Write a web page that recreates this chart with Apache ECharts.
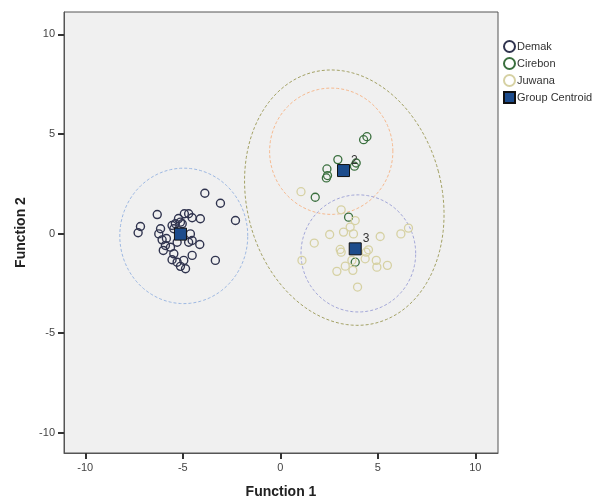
<!DOCTYPE html>
<html>
<head>
<meta charset="utf-8">
<script src="https://cdn.jsdelivr.net/npm/echarts@6/dist/echarts.min.js"></script>
<style>
  html, body { margin: 0; padding: 0; background: #fff; }
  #chart-container { width: 604px; height: 502px; }
</style>
</head>
<body>
<div id="chart-container"></div>
<script>
// discriminant scores, Function 1 / Function 2
const demak = [
  [-3.87, 2.02], [-3.07, 1.52], [-2.30, 0.65], [-6.31, 0.95], [-7.17, 0.35],
  [-7.29, 0.04], [-4.10, 0.74], [-6.14, 0.24], [-6.23, -0.02], [-6.06, -0.32],
  [-5.89, -0.60], [-6.00, -0.85], [-5.63, -0.69], [-5.46, -1.02], [-5.55, -1.32],
  [-5.29, -1.44], [-4.95, -1.35], [-5.12, -1.65], [-4.86, -1.77], [-4.52, -1.10],
  [-4.13, -0.55], [-3.33, -1.35], [-5.38, 0.49], [-5.12, 0.57], [-4.92, 0.99],
  [-4.70, 0.99], [-4.52, 0.79], [-5.55, 0.40], [-4.61, -0.02], [-4.52, -0.35],
  [-4.70, -0.44], [-5.03, 0.49], [-5.46, 0.24], [-5.29, -0.44], [-5.84, -0.25],
  [-5.22, 0.75]
];
const cirebon = [
  [4.27, 4.71], [4.44, 4.86], [2.95, 3.71], [3.89, 3.54], [3.80, 3.38],
  [2.39, 3.24], [2.36, 2.79], [2.42, 2.91], [1.79, 1.82], [3.50, 0.82],
  [3.84, -1.44]
];
const juwana = [
  [1.06, 2.10], [3.12, 1.19], [3.84, 0.65], [3.58, 0.32], [2.53, -0.05],
  [3.24, 0.07], [3.75, -0.02], [1.74, -0.48], [5.12, -0.15], [6.18, -0.02],
  [6.57, 0.27], [1.11, -1.35], [3.07, -0.80], [3.12, -0.94], [4.52, -0.82],
  [4.40, -0.94], [4.35, -1.27], [4.92, -1.35], [4.95, -1.69], [5.49, -1.60],
  [2.90, -1.90], [3.33, -1.64], [3.72, -1.85], [3.96, -2.69], [3.67, -1.35]
];
const centroids = [[-5.12, -0.03], [3.24, 3.16], [3.84, -0.77]];
const centroidLabels = ['', '2', '3'];
// dashed territory outlines: centre x, centre y, radius x, radius y, tilt (deg)
const outlines = [
  [-4.95, -0.12, 3.28, 3.40, 0],
  [2.61, 4.13, 3.16, 3.17, 0],
  [4.00, -1.00, 2.94, 2.94, 0],
  [3.28, 1.80, 5.00, 6.50, 15]
];
const outlineColors = ['#9db8e2', '#f6b98e', '#a2a6d8', '#a3a164'];
const tickValues = [-10, -5, 0, 5, 10];

const chartDom = document.getElementById('chart-container');
const myChart = echarts.init(chartDom);

const renderOutline = function (params, api) {
  const cx = api.value(0), cy = api.value(1);
  const rx = api.value(2), ry = api.value(3);
  const a = api.value(4) * Math.PI / 180;
  const pts = [];
  for (let i = 0; i <= 120; i++) {
    const t = i / 120 * Math.PI * 2;
    const dx = rx * Math.cos(t), dy = ry * Math.sin(t);
    pts.push(api.coord([cx + dx * Math.cos(a) - dy * Math.sin(a), cy + dx * Math.sin(a) + dy * Math.cos(a)]));
  }
  return {
    type: 'polyline',
    shape: { points: pts },
    style: { stroke: outlineColors[params.dataIndex], fill: null, lineWidth: 1, lineDash: [3, 2] }
  };
};

const axisCommon = {
  axisLine: { show: true, onZero: false, lineStyle: { color: '#555', width: 1 } },
  axisTick: { show: true, inside: false, length: 6, customValues: tickValues, lineStyle: { color: '#333', width: 2 } },
  axisLabel: { customValues: tickValues, color: '#444', fontSize: 11, fontFamily: 'Liberation Sans', margin: 9 },
  splitLine: { show: false },
  nameLocation: 'middle',
  nameTextStyle: { color: '#222', fontSize: 14, fontWeight: 'bold', fontFamily: 'Liberation Sans' }
};

const option = {
  animation: false,
  grid: {
    left: 64, top: 12, width: 434, height: 441,
    outerBoundsMode: 'none',
    show: true, backgroundColor: '#f0f0f0', borderColor: '#555', borderWidth: 1
  },
  legend: {
    data: ['Demak', 'Cirebon', 'Juwana', 'Group Centroid'],
    orient: 'vertical',
    left: 503, top: 40,
    padding: 0,
    itemGap: 4,
    itemWidth: 11, itemHeight: 11,
    textStyle: { color: '#333', fontSize: 11, fontFamily: 'Liberation Sans', padding: [0, 0, 0, -3] }
  },
  xAxis: Object.assign({}, axisCommon, {
    type: 'value', min: -11.09, max: 11.16, position: 'bottom',
    name: 'Function 1', nameGap: 32
  }),
  yAxis: Object.assign({}, axisCommon, {
    type: 'value', min: -11.02, max: 11.12, position: 'left',
    name: 'Function 2', nameGap: 29
  }),
  series: [
    {
      type: 'custom',
      renderItem: renderOutline,
      encode: { x: 0, y: 1 },
      silent: true,
      data: outlines
    },
    {
      name: 'Demak', type: 'scatter', symbol: 'circle', symbolSize: 8,
      itemStyle: { color: 'rgba(255,255,255,0)', borderColor: '#30344f', borderWidth: 1.4, opacity: 1 },
      data: demak
    },
    {
      name: 'Cirebon', type: 'scatter', symbol: 'circle', symbolSize: 8,
      itemStyle: { color: 'rgba(255,255,255,0)', borderColor: '#3a6f3e', borderWidth: 1.3, opacity: 1 },
      data: cirebon
    },
    {
      name: 'Juwana', type: 'scatter', symbol: 'circle', symbolSize: 8,
      itemStyle: { color: 'rgba(255,255,255,0)', borderColor: '#d6d1a3', borderWidth: 1.3, opacity: 1 },
      data: juwana
    },
    {
      name: 'Group Centroid', type: 'scatter', symbol: 'rect', symbolSize: 12,
      itemStyle: { color: '#1d4c8c', borderColor: '#111', borderWidth: 1, opacity: 1 },
      label: {
        show: true, position: 'right', distance: 1, offset: [0, -10],
        color: '#333', fontSize: 12, fontFamily: 'Liberation Sans',
        formatter: function (p) { return centroidLabels[p.dataIndex]; }
      },
      data: centroids
    }
  ]
};

option && myChart.setOption(option);
</script>
</body>
</html>
